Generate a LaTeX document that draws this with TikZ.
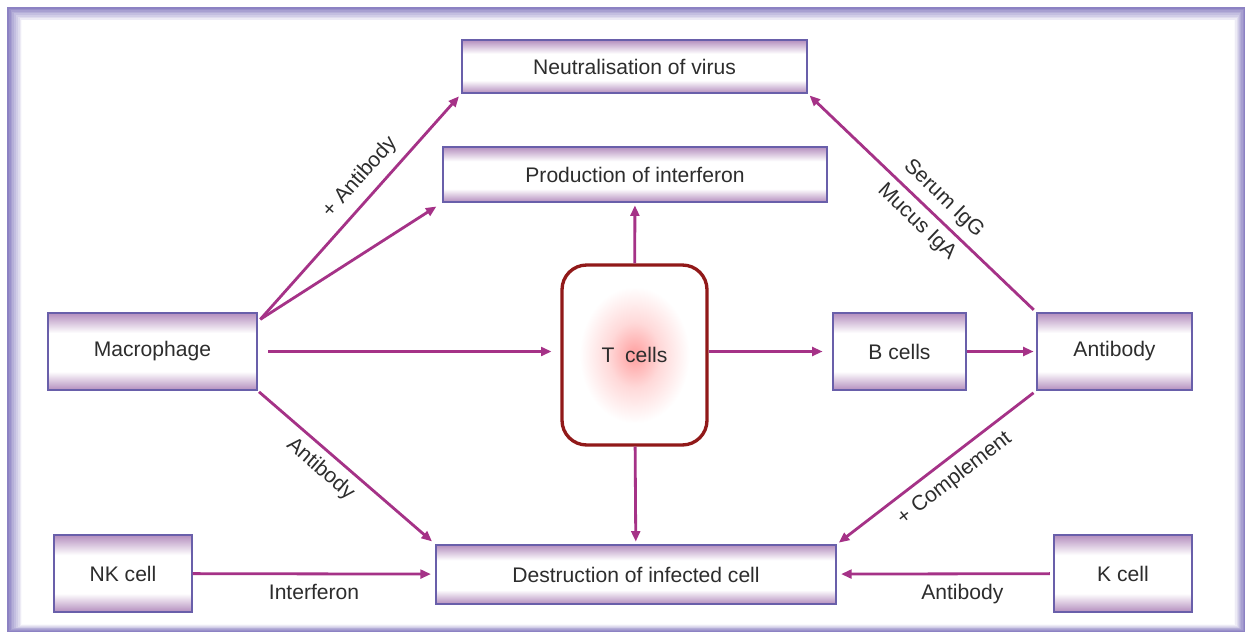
\documentclass[tikz,border=0pt]{standalone}
\usepackage{fontspec}
\setmainfont{Liberation Sans}
\usepackage{xcolor}
\usepackage{tikz}
\usetikzlibrary{arrows.meta}

\definecolor{arrowpink}{RGB}{165,50,135}
\definecolor{boxedge}{RGB}{105,95,170}
\definecolor{boxpurple}{RGB}{180,142,190}
\definecolor{framecol}{RGB}{140,130,195}
\definecolor{tedge}{RGB}{145,25,25}
\definecolor{txt}{RGB}{45,45,45}

\pgfdeclareverticalshading{boxshade}{100bp}{color(0bp)=(boxpurple); color(25bp)=(boxpurple); color(37bp)=(white); color(62bp)=(white); color(75bp)=(boxpurple); color(100bp)=(boxpurple)}
\pgfdeclareradialshading{cellshade}{\pgfpoint{0bp}{0bp}}{color(0bp)=(red!38!white); color(9bp)=(red!15!white); color(19bp)=(white); color(50bp)=(white)}

\begin{document}
\begin{tikzpicture}[
    x=0.02cm, y=-0.02cm,
    >=Stealth,
    box/.style={rectangle, draw=boxedge, line width=0.8pt, shading=boxshade, minimum width=#1, minimum height=1.54cm, inner sep=0pt, font=\fontsize{12}{14}\selectfont, text=txt},
    box/.default=2.76cm,
    tcell/.style={rectangle, rounded corners=14pt, draw=tedge, line width=1.9pt, shading=cellshade, minimum width=2.9cm, minimum height=3.6cm, font=\fontsize{12}{14}\selectfont, text=txt},
    arr/.style={-{Triangle[length=6pt,width=5pt]}, line width=1.6pt, draw=arrowpink, shorten >=1.5pt},
    lbl/.style={font=\fontsize{12}{14}\selectfont, text=txt, inner sep=3pt}
]
\useasboundingbox (0,0) rectangle (1252,639);

% Frame
\fill[framecol] (7,7) rectangle (1245,632);
\foreach \i [evaluate=\i as \p using int(100-\i*12)] in {0,...,8}
  \fill[framecol!\p!white] ({7+\i*1.8},{7+\i*1.6}) rectangle ({1245-\i*1.2},{632-\i*0.9});
\fill[white] (22,20) rectangle (1234,624);

% Top row
\node[box=6.9cm, minimum height=1.06cm] (neut) at (634.5,66.5) {Neutralisation of virus};
\node[box=7.68cm, minimum height=1.1cm] (prod) at (635,174.5) {Production of interferon};

% Middle row
\node[box=4.18cm] (mac) at (152.5,351.5) {Macrophage};
\node[tcell] (tc) at (634.5,355) {T\enspace cells\hspace{10pt}};
\node[box=2.66cm] (bc) at (899.5,351.5) {B cells};
\node[box=3.1cm] (ab) at (1114.5,351.5) {Antibody};

% Bottom row
\node[box] (nk) at (123,573.5) {NK cell};
\node[box=8cm, minimum height=1.18cm] (dest) at (636,574.5) {Destruction of infected cell};
\node[box] (kc) at (1123,573.5) {K cell};

% ---- ARROWS ----
% Macrophage -> top boxes
\coordinate (mtop) at ([shift={(1.5pt,-4pt)}]mac.north east);
\draw[arr, shorten >=2pt] (mtop) -- (neut.south west)
    node[lbl, pos=0.57, above=2pt, sloped] {+ Antibody};
\draw[arr, shorten >=4pt] (mtop) -- (prod.south west);

% Macrophage -> T cells -> B cells -> Antibody
\draw[arr, shorten <=6pt, shorten >=5pt] (mac.east) -- (mac.east -| tc.west);
\draw[arr, shorten >=5.5pt] (bc.west -| tc.east) -- (bc.west);
\draw[arr] (bc) -- (ab);

% T cells up and down
\draw[arr] (tc) -- (prod);
\draw[arr] (tc) -- (dest);

% Antibody -> neutralisation / destruction
\draw[arr, shorten <=2pt] (ab.north west) -- (neut.south east)
    node[lbl, pos=0.46, above=1pt, sloped] {Serum IgG}
    node[lbl, pos=0.47, below=1pt, sloped] {Mucus IgA};
\draw[arr, shorten <=2pt] (ab.south west) -- (dest.north east)
    node[lbl, pos=0.47, below=2pt, sloped] {+ Complement};

% Macrophage -> destruction
\draw[arr, shorten >=2.5pt, shorten <=1pt] (mac.south east) -- (dest.north west)
    node[lbl, pos=0.42, below=1pt, sloped] {Antibody};

% Effector cells -> destruction
\draw[arr, shorten >=2.5pt] (nk) -- (dest) node[lbl, midway, below=2pt] {Interferon};
\draw[arr, shorten <=2pt, shorten >=2.5pt] (kc) -- (dest) node[lbl, pos=0.42, below=2pt] {Antibody};

\end{tikzpicture}
\end{document}
